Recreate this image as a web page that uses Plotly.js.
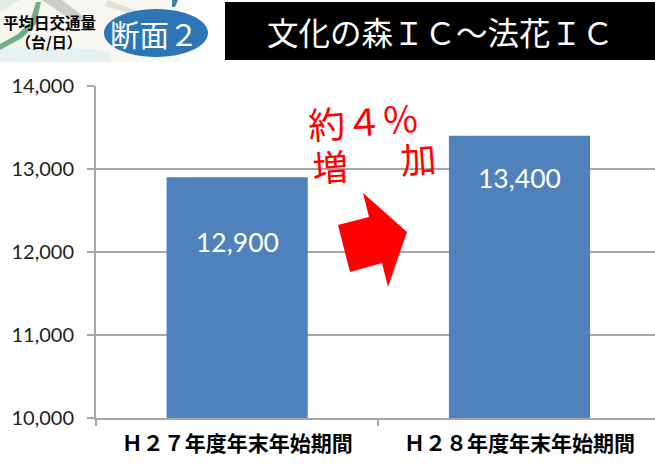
<!DOCTYPE html>
<html><head><meta charset="utf-8">
<script src="https://cdn.plot.ly/plotly-3.0.1.min.js"></script>
<style>html,body{margin:0;padding:0;background:#fff;overflow:hidden}#c{width:655px;height:469px}</style>
</head><body><div id="c"></div>
<script>
var categories = ["Ｈ２７年度年末年始期間", "Ｈ２８年度年末年始期間"];
var trafficValues = [12900, 13400];
var valueLabels = ["12,900", "13,400"];
var tickValues = [10000, 11000, 12000, 13000, 14000];
var tickLabels = ["10,000", "11,000", "12,000", "13,000", "14,000"];

var W = 655, H = 469, L = 96, R = 655, T = 86, B = 418;
function px(x){return (x - L) / (R - L);}
function py(y){return (B - y) / (B - T);}
function poly(pts){
  return pts.map(function(p,i){return (i?'L':'M') + px(p[0]) + ',' + py(p[1]);}).join(' ') + ' Z';
}
var JP = '"Noto Sans CJK JP","Liberation Sans",sans-serif';
var SANS = 'Lato,"Liberation Sans",Arial,sans-serif';

var trace = {
  type:'bar', x:categories, y:trafficValues,
  marker:{color:'#4f81bd',line:{width:0}}, width:0.5, hoverinfo:'skip'
};
function area(pts,color){
  return {type:'path',xref:'paper',yref:'paper',path:poly(pts),fillcolor:color,line:{width:0},layer:'above'};
}
var shapes = [
  {type:'rect',xref:'paper',yref:'paper',x0:px(0),x1:px(180),y0:py(0),y1:py(62),fillcolor:'#f7f6f0',line:{width:0},layer:'above'},
  area([[0,48],[60,46],[110,52],[110,62],[0,62]],'#e6eff2'),
  area([[42,0],[62,0],[88,20],[74,22]],'#c9cfc8'),
  area([[0,44],[18,34],[30,22],[36,2],[41,2],[36,24],[22,38],[0,50]],'#6fae8c'),
  area([[0,0],[20,0],[0,12]],'#e3ece4'),
  area([[108,0],[145,14],[145,18],[104,6]],'#e2e0d8'),
  area([[172,0],[178,0],[175,7],[172,7]],'#3f7fb5'),
  {type:'circle',xref:'paper',yref:'paper',x0:px(104),x1:px(208),y0:py(9),y1:py(57),fillcolor:'#2e75b6',line:{width:0},layer:'above'},
  {type:'rect',xref:'paper',yref:'paper',x0:px(225),x1:px(655),y0:py(2),y1:py(60),fillcolor:'#000000',line:{width:0},layer:'above'},
  area([[363,193],[407,232],[388,287],[382,263],[350,272],[338,225],[369,217]],'#ff0000')
];
function note(text,x,y,size,color,family,extra){
  var a = {text:text,xref:'paper',yref:'paper',x:px(x),y:py(y),xanchor:'center',yanchor:'middle',showarrow:false,
    font:{size:size,color:color,family:family}};
  return Object.assign(a, extra||{});
}
var annotations = [
  note('<b>平均日交通量</b>',49,22,15.5,'#000',JP),
  note('<b>（台/日）</b>',49,42,15,'#000',JP),
  note('断面２',154.5,33,29.5,'#fff',JP),
  note('文化の森ＩＣ～法花ＩＣ',440,31,31.5,'#fff',JP),
  note('約４％',363.5,120,37,'#ff0000',JP,{textangle:-4}),
  note('増',330,165,36,'#ff0000',JP,{textangle:-4}),
  note('加',418,157,36,'#ff0000',JP,{textangle:-4}),
  note(valueLabels[0],237.5,242,26.5,'#fff',SANS),
  note(valueLabels[1],519.5,178,26.5,'#fff',SANS)
];
Plotly.newPlot('c',[trace],{
  width:W,height:H,showlegend:false,
  paper_bgcolor:'#fff',plot_bgcolor:'#fff',
  margin:{l:L,r:W-R,t:T,b:H-B,pad:0},
  xaxis:{type:'category',range:[-0.5,1.48],tickson:'boundaries',ticks:'outside',ticklen:6,tickcolor:'#a6a6a6',tickwidth:2,
    showline:true,linecolor:'#a6a6a6',linewidth:2,showgrid:false,zeroline:false,ticklabelstandoff:6,
    tickfont:{family:JP,size:21,color:'#000',weight:700}},
  yaxis:{range:[10000,14000],tickvals:tickValues,ticktext:tickLabels,ticks:'outside',ticklen:7,tickcolor:'#a6a6a6',tickwidth:2,
    showline:true,linecolor:'#a6a6a6',linewidth:2,showgrid:true,gridcolor:'#a6a6a6',gridwidth:2,zeroline:false,ticklabelstandoff:9,
    tickfont:{family:SANS,size:20,color:'#222'}},
  shapes:shapes,annotations:annotations,bargap:0.5
},{displayModeBar:false,staticPlot:true});
</script></body></html>
